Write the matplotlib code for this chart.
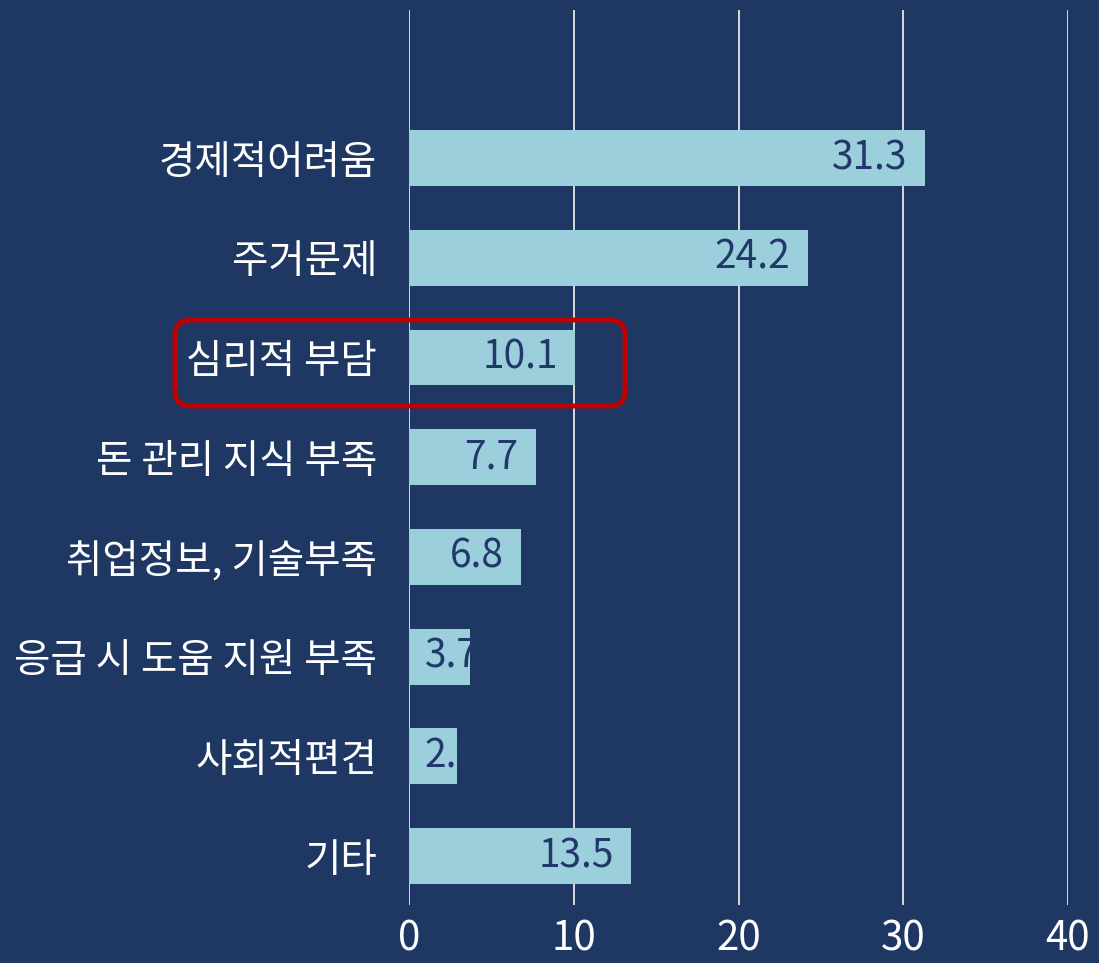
import matplotlib.pyplot as plt
from matplotlib.patches import FancyBboxPatch

# 항목별 응답 비율 (%)
categories = ['경제적어려움', '주거문제', '심리적 부담', '돈 관리 지식 부족',
              '취업정보, 기술부족', '응급 시 도움 지원 부족', '사회적편견', '기타']
values = [31.3, 24.2, 10.1, 7.7, 6.8, 3.7, 2.9, 13.5]
x_ticks = [0, 10, 20, 30, 40]

bg = '#1f3763'
bar_c = '#9bcfdc'
lbl_c = '#22386a'

plt.rcParams['font.family'] = ['Noto Sans CJK KR', 'DejaVu Sans']

fig = plt.figure(figsize=(10.99, 9.63), dpi=100, facecolor=bg)
ax = fig.add_axes([409 / 1099, 1 - 905 / 963, (1068 - 409) / 1099, (905 - 10) / 963])
ax.set_facecolor(bg)

y = list(range(len(categories)))
ax.barh(y, values, height=0.56, color=bar_c, zorder=2)

for i, v in enumerate(values):
    if v < 5:
        ax.text(0.95, i, f'{v}', ha='left', va='center', fontsize=28,
                color=lbl_c, zorder=3)
    else:
        ax.text(v - 1.05, i, f'{v}', ha='right', va='center', fontsize=28,
                color=lbl_c, zorder=3)

ax.set_xlim(0, 40)
ax.set_ylim(7.49, -1.485)
ax.set_xticks(x_ticks)
ax.set_xticklabels([str(t) for t in x_ticks], fontsize=29, color='white')
ax.set_yticks(y)
ax.set_yticklabels(categories, fontsize=28.5, color='white', fontweight='medium')
ax.tick_params(axis='both', length=0)
ax.tick_params(axis='x', pad=10)
ax.tick_params(axis='y', pad=23)
for s in ax.spines.values():
    s.set_visible(False)
ax.grid(axis='x', color='#d9d9d9', linewidth=1.4, zorder=1)
ax.set_axisbelow(True)

# 강조 박스
x0, y0, x1, y1 = 175, 320, 625, 406
box = FancyBboxPatch((x0 / 1099, 1 - y1 / 963), (x1 - x0) / 1099, (y1 - y0) / 963,
                     boxstyle='round,pad=0,rounding_size=0.015',
                     transform=fig.transFigure, fill=False,
                     edgecolor='#c00000', linewidth=3.5, zorder=5)
fig.patches.append(box)

fig.savefig('out.png', dpi=100, facecolor=bg)
